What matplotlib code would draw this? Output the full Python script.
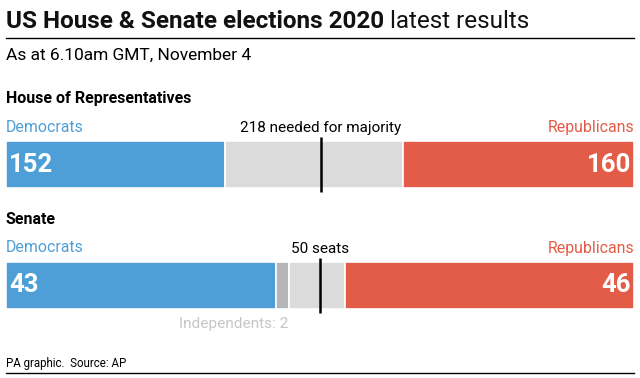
import matplotlib.pyplot as plt

plt.rcParams['font.family'] = ['Roboto', 'DejaVu Sans']

# seat counts
house_total = 435
house_dem = 152
house_rep = 160
house_majority = 218

senate_total = 100
senate_dem = 43
senate_ind = 2
senate_rep = 46
senate_majority = 50

blue = '#4e9fd7'
red = '#e35c47'
light = '#dbdbdb'
indep = '#b4b6b9'

W, H = 640, 378
fig = plt.figure(figsize=(W / 100, H / 100), dpi=100)


def fx(px):
    return px / W


def fy(py):
    return 1 - py / H


def draw_bar(top, bottom, total, segs, majority):
    ax = fig.add_axes([fx(6), fy(bottom), fx(634) - fx(6), fy(top) - fy(bottom)])
    for left, width, col in segs:
        ax.barh(0, width, left=left, height=1, color=col,
                edgecolor='white', linewidth=1.2)
    ax.plot([majority, majority], [-0.58, 0.58], color='black', lw=1.8,
            clip_on=False, solid_capstyle='butt')
    ax.set_xlim(0, total)
    ax.set_ylim(-0.5, 0.5)
    ax.axis('off')
    return ax


# House
fig.text(fx(6), fy(99), 'House of Representatives', fontsize=11.5,
         fontweight='bold', va='center', ha='left')
fig.text(fx(6), fy(127), 'Democrats', fontsize=11.4, color=blue, va='center')
fig.text(fx(634), fy(127), 'Republicans', fontsize=11.4, color=red, va='center',
         ha='right')
ax1 = draw_bar(141, 188, house_total,
               [(0, house_dem, blue),
                (house_dem, house_total - house_dem - house_rep, light),
                (house_total - house_rep, house_rep, red)],
               house_majority)
ax1.text(house_majority, 0.62, f'{house_majority} needed for majority',
         fontsize=11, ha='center', va='bottom')
ax1.text(house_total * 0.005, 0, str(house_dem), color='white', fontsize=18.5,
         fontweight='bold', va='center', ha='left')
ax1.text(house_total * 0.995, 0, str(house_rep), color='white', fontsize=18.5,
         fontweight='bold', va='center', ha='right')

# Senate
fig.text(fx(6), fy(219), 'Senate', fontsize=11.5, fontweight='bold', va='center')
fig.text(fx(6), fy(248), 'Democrats', fontsize=11.4, color=blue, va='center')
fig.text(fx(634), fy(248), 'Republicans', fontsize=11.4, color=red, va='center',
         ha='right')
ax2 = draw_bar(262, 309, senate_total,
               [(0, senate_dem, blue),
                (senate_dem, senate_ind, indep),
                (senate_dem + senate_ind,
                 senate_total - senate_dem - senate_ind - senate_rep, light),
                (senate_total - senate_rep, senate_rep, red)],
               senate_majority)
ax2.text(senate_majority, 0.62, f'{senate_majority} seats', fontsize=11,
         ha='center', va='bottom')
ax2.text(senate_total * 0.005, 0, str(senate_dem), color='white', fontsize=18.5,
         fontweight='bold', va='center', ha='left')
ax2.text(senate_total * 0.995, 0, str(senate_rep), color='white', fontsize=18.5,
         fontweight='bold', va='center', ha='right')
ax2.text(senate_dem + senate_ind, -0.82, f'Independents: {senate_ind}',
         fontsize=11.1, color='#c6c6c6', ha='right', va='center')

# title block
t1 = fig.text(fx(6), fy(28), 'US House & Senate elections 2020', fontsize=17.5,
              fontweight='bold', va='baseline', ha='left', color='#111111')
ax1.annotate('latest results', xy=(1, 0), xycoords=t1, xytext=(4, 0),
             textcoords='offset points', fontsize=17.5, va='bottom', ha='left',
             color='#111111', annotation_clip=False)
fig.add_artist(plt.Line2D([fx(6), fx(634)], [fy(38), fy(38)], color='black', lw=1))
fig.text(fx(6), fy(55), 'As at 6.10am GMT, November 4', fontsize=12.5,
         va='center', ha='left')

# footer
fig.text(fx(6), fy(363), 'PA graphic.  Source: AP', fontsize=8.3, va='center')
fig.add_artist(plt.Line2D([fx(6), fx(634)], [fy(373), fy(373)], color='black', lw=1))

fig.savefig('out.png', dpi=100)
